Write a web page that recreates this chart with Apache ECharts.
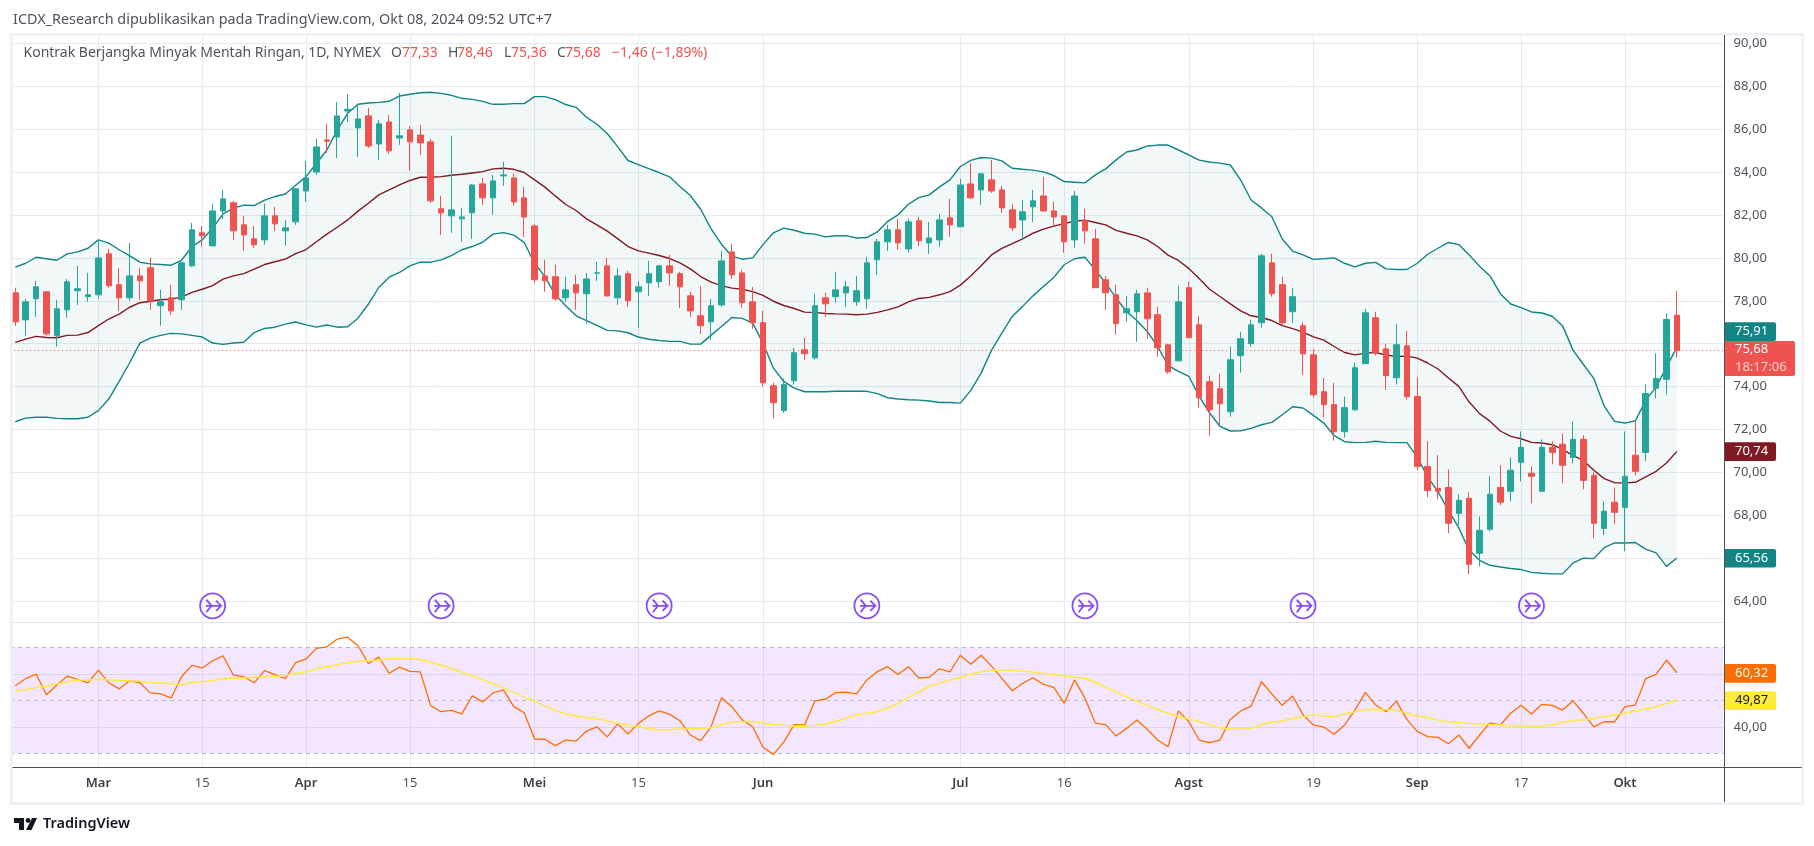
<!DOCTYPE html>
<html><head><meta charset="utf-8"><style>html,body{margin:0;padding:0;background:#fff}#c{width:1814px;height:846px}</style>
<script src="https://cdn.jsdelivr.net/npm/echarts@6/dist/echarts.min.js"></script></head>
<body><div id="c"></div><script>
const categories=['02-20','02-21','02-22','02-23','02-26','02-27','02-28','02-29',
'03-01','03-04','03-05','03-06','03-07','03-08','03-11','03-12','03-13','03-14','03-15','03-18','03-19','03-20','03-21','03-22','03-25','03-26','03-27','03-28',
'04-01','04-02','04-03','04-04','04-05','04-08','04-09','04-10','04-11','04-12','04-15','04-16','04-17','04-18','04-19','04-22','04-23','04-24','04-25','04-26','04-29','04-30',
'05-01','05-02','05-03','05-06','05-07','05-08','05-09','05-10','05-13','05-14','05-15','05-16','05-17','05-20','05-21','05-22','05-23','05-24','05-28','05-29','05-30','05-31',
'06-03','06-04','06-05','06-06','06-07','06-10','06-11','06-12','06-13','06-14','06-17','06-18','06-20','06-21','06-24','06-25','06-26','06-27','06-28',
'07-01','07-02','07-03','07-05','07-08','07-09','07-10','07-11','07-12','07-15','07-16','07-17','07-18','07-19','07-22','07-23','07-24','07-25','07-26','07-29','07-30','07-31',
'08-01','08-02','08-05','08-06','08-07','08-08','08-09','08-12','08-13','08-14','08-15','08-16','08-19','08-20','08-21','08-22','08-23','08-26','08-27','08-28','08-29','08-30',
'09-03','09-04','09-05','09-06','09-09','09-10','09-11','09-12','09-13','09-16','09-17','09-18','09-19','09-20','09-23','09-24','09-25','09-26','09-27','09-30',
'10-01','10-02','10-03','10-04','10-07','10-08','10-09','10-10','10-11','10-14'];
const tickLabels={'03-01':'Mar','03-15':'15','04-01':'Apr','04-15':'15','05-01':'Mei','05-15':'15','06-03':'Jun','07-01':'Jul','07-16':'16','08-01':'Agst','08-19':'19','09-03':'Sep','09-17':'17','10-01':'Okt'};
// [open, close, low, high]
const candles=[
[78.37,77.02,76.84,78.61],[77.11,77.95,76.37,78.09],[78.09,78.65,77.25,78.93],[78.42,76.46,76.37,78.42],[76.37,77.63,75.86,78.05],[77.58,78.89,77.21,79.02],[78.47,78.56,77.81,79.63],[78.19,78.28,77.95,79.30],
[78.28,80.00,78.09,80.84],[80.19,78.70,78.61,80.42],[78.75,78.14,77.53,79.54],[78.14,79.16,78.00,80.70],[79.16,78.93,78.05,79.54],[79.54,78.00,77.58,80.00],[77.77,77.95,76.84,78.51],[78.14,77.53,77.35,78.75],
[78.05,79.77,77.58,79.82],[79.63,81.31,79.58,81.63],[81.17,81.03,80.52,81.49],[80.56,82.19,80.56,82.52],[82.19,82.75,81.82,83.17],[82.57,81.26,80.84,82.66],[81.54,81.07,80.33,81.96],[80.89,80.61,80.47,81.49],
[80.84,81.96,80.61,82.52],[81.96,81.59,81.26,82.38],[81.26,81.40,80.56,81.77],[81.68,83.22,81.54,83.22],[83.12,83.73,82.61,84.52],[84.01,85.17,83.87,85.55],[85.50,85.44,84.89,86.25],[85.64,86.62,84.66,87.27],
[86.85,86.93,86.34,87.64],[86.06,86.48,84.71,87.18],[86.62,85.22,85.13,86.99],[85.31,86.25,84.57,86.43],[86.34,84.99,84.85,86.66],[85.59,85.69,85.27,87.69],[85.97,85.41,84.06,86.15],[85.73,85.36,84.80,86.20],
[85.41,82.66,82.57,85.55],[82.29,82.10,81.07,82.89],[81.96,82.24,81.17,85.69],[81.82,81.91,80.75,82.33],[82.10,83.40,80.89,83.45],[83.45,82.80,82.47,83.73],[82.80,83.59,82.01,83.87],[83.82,83.87,83.36,84.48],
[83.73,82.61,82.43,83.92],[82.80,81.91,80.98,83.31],[81.49,78.98,78.84,81.59],[79.16,78.93,78.42,79.91],[79.12,78.09,78.00,79.68],[78.14,78.51,77.95,79.12],[78.75,78.37,77.58,79.21],[78.33,79.02,76.93,79.30],
[79.29,79.30,78.93,79.82],[79.63,78.23,78.19,80.00],[78.14,79.16,77.81,79.54],[79.26,78.00,77.72,79.40],[78.42,78.65,76.74,78.93],[78.84,79.26,78.23,79.86],[78.89,79.63,78.61,79.68],[79.63,79.30,78.70,80.14],
[79.26,78.65,77.67,79.35],[78.23,77.53,77.25,78.42],[77.30,76.84,76.46,78.70],[77.02,77.77,76.18,78.09],[77.81,79.86,77.72,80.33],[80.28,79.21,79.02,80.66],[79.30,77.91,77.67,79.44],[77.95,76.98,76.70,78.65],
[76.98,74.18,74.00,77.53],[74.04,73.25,72.52,74.18],[72.88,74.09,72.78,74.37],[74.27,75.58,74.09,75.81],[75.72,75.53,75.25,76.28],[75.34,77.77,75.25,78.33],[78.14,77.86,77.25,78.37],[78.19,78.51,77.91,79.35],
[78.37,78.65,77.72,78.93],[77.95,78.47,77.77,79.16],[78.09,79.77,77.63,80.05],[79.91,80.75,79.21,80.89],[80.75,81.31,80.33,81.54],[81.31,80.70,80.38,81.82],[80.42,81.68,80.24,81.82],[81.73,80.80,80.56,81.91],
[80.70,80.93,80.19,81.68],[80.84,81.77,80.52,82.05],[81.87,81.54,80.98,82.75],[81.45,83.40,81.45,83.68],[83.45,82.80,82.75,84.43],[83.17,83.92,82.47,83.96],[83.64,83.12,83.03,84.57],[83.17,82.33,82.10,83.36],
[82.24,81.40,81.26,82.52],[81.77,82.15,80.84,82.70],[82.38,82.66,81.68,83.17],[82.89,82.19,82.15,83.78],[82.19,81.91,81.49,82.61],[81.96,80.75,80.24,81.96],[80.84,82.89,80.47,83.12],[81.73,81.26,80.66,82.29],
[80.89,78.61,78.61,81.35],[78.98,78.37,77.58,79.16],[78.28,76.93,76.42,78.75],[77.44,77.63,77.02,78.23],[77.49,78.33,76.09,78.51],[78.37,77.16,76.23,78.61],[77.35,75.81,75.39,77.72],[75.95,74.69,74.60,76.00],
[75.20,77.95,75.20,78.70],[78.61,76.28,76.28,78.89],[76.88,73.48,73.02,77.30],[74.23,72.92,71.71,74.51],[73.90,73.20,72.22,74.60],[72.83,75.25,72.60,75.86],[75.44,76.23,74.65,76.56],[76.00,76.88,75.86,77.11],
[76.98,80.10,76.74,80.19],[79.77,78.33,78.19,80.19],[78.75,76.98,76.84,79.12],[77.49,78.19,76.98,78.61],[76.84,75.53,74.55,77.02],[75.48,73.62,73.48,75.76],[73.76,73.16,72.55,74.41],[73.16,71.90,71.48,74.18],
[71.90,73.02,71.62,73.53],[72.92,74.88,72.88,75.11],[75.07,77.44,75.07,77.63],[77.21,75.58,75.44,77.49],[75.76,74.51,73.85,76.00],[74.41,75.95,74.09,76.93],[75.90,73.53,73.39,76.60],[73.54,70.28,70.10,74.43],
[70.28,69.16,68.84,71.45],[69.26,69.12,68.75,70.80],[69.30,67.63,67.16,70.14],[68.09,68.70,67.53,68.98],[68.79,65.72,65.25,69.07],[66.23,67.30,65.62,67.95],[67.35,68.98,67.25,69.82],[69.30,68.61,68.47,70.33],
[69.12,70.10,68.65,70.70],[70.47,71.17,69.58,71.91],[69.96,69.82,68.56,70.28],[69.12,71.17,69.12,71.54],[71.17,70.93,70.38,71.45],[71.31,70.33,69.49,71.82],[70.70,71.54,70.42,72.38],[71.54,69.63,69.21,71.73],
[69.86,67.63,66.93,70.00],[67.39,68.19,67.07,68.65],[68.61,68.14,67.58,69.30],[68.37,69.82,66.32,71.91],[70.80,70.05,69.86,72.43],[70.93,73.68,70.52,74.10],[73.92,74.38,73.45,75.55],[74.34,77.13,73.64,77.41],
[77.33,75.68,75.36,78.46]];
const bbUpper=[79.57,79.75,80.03,79.96,79.89,80.19,80.28,80.45,80.84,80.69,80.38,80.11,79.80,79.72,79.69,79.66,79.89,80.52,80.84,81.39,82.05,82.32,82.46,82.44,82.69,82.86,82.98,83.39,83.79,84.41,85.03,85.97,86.74,87.16,87.22,87.25,87.30,87.55,87.63,87.70,87.72,87.67,87.58,87.44,87.39,87.30,87.16,87.16,87.19,87.19,87.52,87.52,87.38,87.15,87.02,86.56,86.23,85.80,85.19,84.54,84.35,84.16,83.98,83.78,83.33,82.91,82.27,81.35,80.64,80.08,79.94,80.00,80.62,81.17,81.39,81.29,81.15,81.11,80.98,81.03,81.04,80.93,80.95,81.21,81.70,82.01,82.50,82.81,82.94,83.31,83.64,84.26,84.55,84.68,84.65,84.52,84.18,84.13,84.09,84.01,83.84,83.56,83.53,83.50,83.87,84.15,84.57,84.94,85.03,85.22,85.26,85.26,85.03,84.80,84.56,84.47,84.42,84.33,83.63,82.70,82.33,81.92,80.88,80.32,80.14,79.93,79.96,80.00,79.75,79.58,79.75,79.79,79.49,79.46,79.46,79.75,80.17,80.45,80.72,80.62,80.14,79.61,79.16,78.33,77.85,77.68,77.48,77.43,77.28,76.83,75.70,75.03,74.38,73.09,72.38,72.30,72.41,73.36,73.99,74.91,75.84];
const bbMiddle=[76.06,76.21,76.34,76.29,76.28,76.39,76.40,76.52,76.84,77.15,77.38,77.70,77.91,77.98,78.05,78.08,78.17,78.39,78.54,78.71,79.01,79.16,79.27,79.48,79.69,79.82,79.94,80.20,80.39,80.75,81.11,81.43,81.77,82.18,82.55,82.94,83.17,83.40,83.61,83.76,83.76,83.79,83.85,83.90,83.96,84.02,84.15,84.18,84.13,83.98,83.64,83.30,82.89,82.49,82.21,81.82,81.54,81.25,80.90,80.53,80.33,80.22,80.11,79.97,79.77,79.49,79.13,78.87,78.71,78.59,78.54,78.43,78.25,77.98,77.78,77.64,77.47,77.46,77.41,77.39,77.38,77.35,77.38,77.46,77.58,77.72,77.95,78.11,78.16,78.28,78.43,78.73,79.16,79.63,80.14,80.44,80.67,80.89,81.15,81.34,81.48,81.60,81.71,81.76,81.65,81.54,81.28,81.15,81.03,80.84,80.53,80.13,79.88,79.51,79.04,78.54,78.20,77.86,77.53,77.30,77.22,77.08,76.84,76.70,76.54,76.32,76.17,75.87,75.59,75.48,75.56,75.59,75.47,75.41,75.42,75.33,75.10,74.82,74.40,74.01,73.28,72.74,72.39,71.93,71.68,71.57,71.40,71.37,71.29,71.07,70.78,70.56,70.10,69.71,69.52,69.51,69.54,69.79,70.05,70.44,70.98];
const bbLower=[72.36,72.53,72.57,72.57,72.52,72.50,72.50,72.57,72.88,73.42,74.24,75.10,76.03,76.26,76.39,76.48,76.46,76.39,76.31,76.03,75.97,76.03,76.07,76.52,76.71,76.77,76.91,77.01,76.88,76.77,76.87,76.77,76.79,77.19,77.84,78.62,79.10,79.32,79.63,79.80,79.80,79.91,80.11,80.38,80.53,80.73,81.11,81.18,81.06,80.72,79.75,79.13,78.28,77.77,77.30,77.08,76.85,76.62,76.60,76.51,76.31,76.21,76.15,76.11,76.11,75.98,75.98,76.40,76.80,77.22,77.18,76.96,76.03,74.86,74.24,73.93,73.76,73.76,73.76,73.78,73.78,73.78,73.78,73.67,73.48,73.42,73.39,73.37,73.33,73.26,73.26,73.23,73.81,74.63,75.69,76.49,77.27,77.74,78.23,78.67,79.09,79.68,79.96,80.03,79.44,78.82,78.12,77.50,77.08,76.57,75.87,74.99,74.71,74.48,73.54,72.77,72.15,71.93,71.94,72.05,72.22,72.33,72.69,73.06,73.00,72.66,72.30,71.71,71.43,71.39,71.40,71.45,71.40,71.39,71.39,70.72,69.79,69.09,68.23,67.41,66.37,65.90,65.67,65.59,65.52,65.47,65.34,65.30,65.27,65.27,65.78,66.00,65.98,66.49,66.71,66.71,66.73,66.42,66.25,65.62,66.01];
const rsiValues=[55.5,58.2,59.9,52.1,55.8,59.1,57.9,56.6,61.4,56.6,54.3,57.4,56.6,52.8,52.4,50.9,58.9,63.2,62.2,64.9,66.8,59.5,58.9,56.6,61.2,59.7,58.2,64.2,65.6,69.6,70.2,73.1,73.8,70.6,63.9,66.3,60.2,62.5,60.9,60.7,48.0,45.7,46.2,44.9,51.7,49.4,52.8,53.9,47.6,45.3,35.4,35.3,32.9,35.0,34.6,38.4,40.0,36.2,41.1,37.3,41.3,44.1,46.0,44.8,42.3,36.9,34.8,40.0,51.0,47.6,42.6,40.0,32.3,29.6,34.2,40.8,40.7,49.8,50.4,52.9,53.1,52.4,57.7,60.8,62.7,59.7,62.7,58.4,58.7,61.9,60.7,67.0,63.6,67.0,62.9,58.3,53.6,56.4,58.5,56.0,54.9,48.9,57.7,50.8,41.4,40.8,36.5,39.4,42.6,39.1,35.0,32.5,46.0,41.9,35.0,34.0,35.0,42.8,46.0,47.8,57.0,52.4,48.1,51.6,44.5,40.7,39.9,37.2,40.7,46.3,53.0,48.2,45.7,49.6,42.8,38.3,36.3,36.0,33.6,36.9,31.9,36.9,41.5,40.7,45.1,48.1,44.8,48.5,48.1,46.3,49.8,45.1,40.0,41.9,41.9,47.6,48.2,58.2,59.8,65.2,60.4];
const rsiMA=[53.8,54.0,54.8,55.4,56.1,57.0,57.7,57.7,57.9,57.8,57.4,57.4,57.2,56.7,56.5,56.2,55.9,56.7,57.0,57.4,58.2,58.3,58.4,58.7,58.9,59.0,59.4,60.2,60.7,61.9,62.7,63.4,64.2,64.7,65.0,65.1,65.6,65.7,65.7,65.4,64.5,63.2,62.0,60.7,59.2,57.7,56.2,54.7,53.0,51.1,49.7,47.9,46.2,44.8,44.1,43.5,43.0,42.3,41.3,40.6,40.1,39.3,38.8,38.9,39.2,39.3,39.4,39.6,40.8,41.7,41.9,42.1,41.4,40.9,40.6,40.2,40.2,40.6,41.1,42.1,43.2,44.5,45.1,45.7,47.0,48.9,51.1,53.3,55.2,56.4,57.7,58.6,59.8,60.8,61.3,61.4,61.4,61.1,60.6,60.2,59.7,59.3,58.8,58.3,56.8,54.9,53.1,51.4,49.7,48.1,46.5,45.1,43.8,43.0,41.9,40.8,39.6,39.1,39.2,39.4,40.9,41.8,42.2,43.2,43.8,44.5,44.2,43.8,44.8,45.7,46.4,46.6,46.5,46.2,45.1,44.1,43.5,42.6,41.9,41.6,41.2,41.1,40.9,40.7,40.4,40.3,40.3,40.3,40.7,41.6,42.3,42.7,43.1,43.8,44.5,45.1,46.0,46.7,47.6,48.9,49.9];
const eventDates=['03-18','04-18','05-17','06-17','07-18','08-16','09-18'];
const eventLevel=63.78;
const lastClose=75.68;
const priceTicks={min:64,max:90,step:2};
const rsiBounds=[70,50,30];
const rsiGrid=[60,40];
const tagUpper='75,91',tagClose='75,68',tagCountdown='18:17:06',tagMiddle='70,74',tagLower='65,56',tagRsi='60,32',tagMA='49,87';
const headerText='ICDX_Research dipublikasikan pada TradingView.com, Okt 08, 2024 09:52 UTC+7';
const symbolText='Kontrak Berjangka Minyak Mentah Ringan, 1D, NYMEX';
const legendO='77,33',legendH='78,46',legendL='75,36',legendC='75,68',legendChange='−1,46 (−1,89%)';

const FONT='"Noto Sans",sans-serif';
const GREEN='#26a69a',RED='#ef5350',TEAL='#138484',MAROON='#801922',GRID='#e4ecf2',DARK='#50535e';
const GL=10.115,GW=1713.5;
const grids=[
 {left:GL,width:GW,top:33,height:734},
 {left:GL,width:GW,top:43.4,height:557.7},
 {left:GL,width:GW,top:647.3,height:106}
];
const tickSet=function(i,v){return tickLabels[v]!==undefined;};
function xAxisFor(g,shown){return {
 type:'category',gridIndex:g,data:categories,boundaryGap:true,
 axisLine:{show:false},axisTick:{show:false},
 axisLabel:shown?{show:true,interval:tickSet,margin:10,fontFamily:FONT,fontSize:13,color:'#50535e',
   formatter:function(v){const t=tickLabels[v];return /\d/.test(t)?t:'{m|'+t+'}';},
   rich:{m:{fontFamily:FONT,fontSize:13,fontWeight:600,color:'#3c3f48'}}}:{show:false},
 splitLine:shown?{show:true,interval:tickSet,alignWithLabel:true,lineStyle:{color:GRID,width:1}}:{show:false}
};}
const num=v=>v.toFixed(2).replace('.',',');
const lineBase={type:'line',symbol:'none',smooth:false,silent:true,animation:false};
function tag(x,y,w,h,fill,lines,txt){
 const els=[{type:'rect',z:100,shape:{x:x,y:y,width:w,height:h,r:[0,2,2,0]},style:{fill:fill}}];
 lines.forEach((t,k)=>els.push({type:'text',z:101,style:{x:x+10,y:y+h*(k+.5)/lines.length,text:t,fill:txt[k]||txt[0],font:'13px '+FONT,verticalAlign:'middle',align:'left'}}));
 return els;
}
function bar(x,y,w,h,c){return {type:'rect',z:90,shape:{x:x,y:y,width:w,height:h},style:{fill:c}};}
function txt(x,y,t,c,size){return {type:'text',z:95,style:{x:x,y:y,text:t,fill:c,font:(size||14)+'px '+FONT,verticalAlign:'middle',align:'left'}};}
const graphic=[
 bar(0,0,10,846,'#fff'),
 bar(10,33,2.7,772,'#eef0f5'),
 bar(10,33,1793.7,2.4,'#eef0f5'),
 bar(1801.6,33,2.4,772,'#eef0f5'),
 bar(10,802,1794,3,'#eef0f5'),
 bar(12.7,622,1711.3,1,'#e0e3eb'),
 bar(12.7,767,1789,1,'#4e5058'),
 bar(1724,35,1,767,'#4e5058'),
 txt(13,20,headerText,'#50535e',14.4),
 txt(23.5,53,symbolText,'#50535e'),
 txt(391,53,'O','#50535e'),txt(402,53,legendO,RED),
 txt(448,53,'H','#50535e'),txt(457,53,legendH,RED),
 txt(504,53,'L','#50535e'),txt(511,53,legendL,RED),
 txt(557,53,'C','#50535e'),txt(565,53,legendC,RED),
 txt(612,53,legendChange,RED),
 ...tag(1725,322.3,51,18.6,TEAL,[tagUpper],['#fff']),
 ...tag(1725,341,70,35,RED,[tagClose,tagCountdown],['#fff','#fbd0cf']),
 ...tag(1725,442.3,51,18.6,MAROON,[tagMiddle],['#fff']),
 ...tag(1725,549,51,18.6,TEAL,[tagLower],['#fff']),
 ...tag(1725,664,51,18.7,'#ff6d00',[tagRsi],['#fff']),
 ...tag(1725,691.3,51,18.7,'#ffeb3b',[tagMA],['#131722']),
 {type:'polygon',z:95,shape:{points:[[14,818],[24,818],[24,830],[19,830],[19,823],[14,823]]},style:{fill:'#131722'}},
 {type:'circle',z:95,shape:{cx:28,cy:820.5,r:2.4},style:{fill:'#131722'}},
 {type:'polygon',z:95,shape:{points:[[32,818],[37,818],[31.5,830],[26,830]]},style:{fill:'#131722'}},
 {type:'text',z:95,style:{x:43,y:824,text:'TradingView',fill:'#131722',font:'600 14.5px '+FONT,verticalAlign:'middle',align:'left'}}
];
const eventSymbol='path://M12 1A11 11 0 1 1 11.99 1Z M6 12H19 M15 7.5L19.5 12L15 16.5 M6.5 6.5L11 12L6.5 17.5';
const option={
 animation:false,backgroundColor:'#fff',
 grid:grids,
 xAxis:[xAxisFor(0,true),xAxisFor(1,false),xAxisFor(2,false)],
 yAxis:[
  {type:'value',gridIndex:0,min:0,max:1,show:false},
  {type:'value',gridIndex:1,position:'right',min:priceTicks.min,max:priceTicks.max,interval:priceTicks.step,
   axisLine:{show:false},axisTick:{show:false},
   axisLabel:{show:true,margin:10,fontFamily:FONT,fontSize:13,color:DARK,formatter:num},
   splitLine:{show:true,lineStyle:{color:GRID,width:1}}},
  {type:'value',gridIndex:2,position:'right',min:30,max:70,interval:10,
   axisLine:{show:false},axisTick:{show:false},
   axisLabel:{show:true,margin:10,fontFamily:FONT,fontSize:13,color:DARK,formatter:v=>v===40?num(v):''},
   splitLine:{show:false}}
 ],
 graphic:graphic,
 series:[
  {...lineBase,name:'bbBase',xAxisIndex:1,yAxisIndex:1,data:bbLower,stack:'bb',lineStyle:{opacity:0},z:2},
  {...lineBase,name:'bbFill',xAxisIndex:1,yAxisIndex:1,data:bbUpper.map((u,i)=>+(u-bbLower[i]).toFixed(2)),stack:'bb',lineStyle:{opacity:0},areaStyle:{color:'rgba(19,132,132,0.055)',opacity:1},z:2},
  {...lineBase,name:'upper',xAxisIndex:1,yAxisIndex:1,data:bbUpper,lineStyle:{color:TEAL,width:1.4},z:3},
  {...lineBase,name:'lower',xAxisIndex:1,yAxisIndex:1,data:bbLower,lineStyle:{color:TEAL,width:1.4},z:3},
  {...lineBase,name:'middle',xAxisIndex:1,yAxisIndex:1,data:bbMiddle,lineStyle:{color:MAROON,width:1.4},z:3},
  {type:'candlestick',name:'price',xAxisIndex:1,yAxisIndex:1,data:candles,barWidth:6,silent:true,z:4,animation:false,
   itemStyle:{color:GREEN,color0:RED,borderColor:GREEN,borderColor0:RED,borderWidth:1},
   markLine:{silent:true,symbol:'none',animation:false,label:{show:false},
    lineStyle:{color:RED,type:[1,3],width:1},data:[{yAxis:lastClose}]}},
  {type:'scatter',name:'events',xAxisIndex:1,yAxisIndex:1,clip:false,silent:true,animation:false,z:5,
   data:eventDates.map(d=>[d,eventLevel]),symbol:eventSymbol,symbolSize:[25,25],
   itemStyle:{color:'rgba(255,255,255,0)',borderColor:'#6a1fff',borderWidth:1.8}},
  {...lineBase,name:'rsi',xAxisIndex:2,yAxisIndex:2,data:rsiValues,clip:false,lineStyle:{color:'#ff6d00',width:1.3},z:6,
   markArea:{silent:true,animation:false,itemStyle:{color:'rgba(155,39,246,0.115)'},data:[[{yAxis:30},{yAxis:70}]]},
   markLine:{silent:true,symbol:'none',animation:false,label:{show:false},data:[
     ...rsiGrid.map(v=>({yAxis:v,lineStyle:{color:'#ddd5f0',type:'solid',width:1}})),
     ...rsiBounds.map(v=>({yAxis:v,lineStyle:{color:'#b9b4c4',type:[4,4],width:1}}))]}},
  {...lineBase,name:'rsiMA',xAxisIndex:2,yAxisIndex:2,data:rsiMA,clip:false,lineStyle:{color:'#ffeb3b',width:1.5},z:6}
 ]
};
const chart=echarts.init(document.getElementById('c'),null,{renderer:'canvas'});
chart.setOption(option);
</script></body></html>
